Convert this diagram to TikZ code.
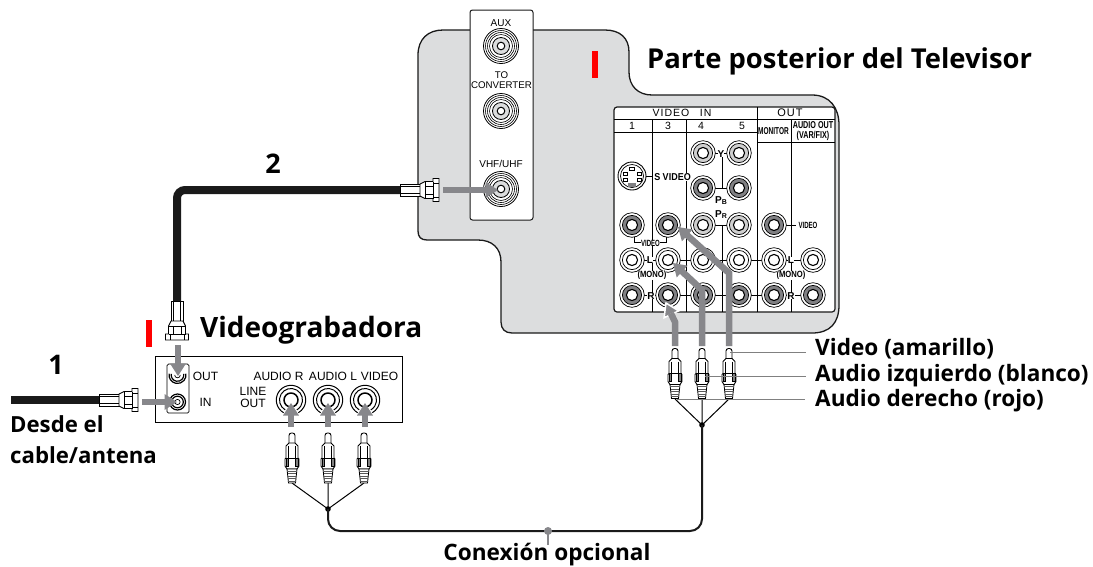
\documentclass[tikz,border=0pt]{standalone}
\usepackage{fontspec}
\usepackage{graphicx}
\setmainfont{Liberation Sans}
\newfontfamily\headfont{Open Sans}
\usetikzlibrary{calc}
\definecolor{tvgray}{HTML}{DCDDDE}
\definecolor{arrowgray}{HTML}{87878B}
\definecolor{jackdark}{HTML}{808083}
\definecolor{jacklight}{HTML}{CFCFCF}
\definecolor{inkblack}{HTML}{1A1A1A}
\newcommand\garrow[4][draw=none]{%
  \coordinate (gb) at ($(#4)!12.5pt!(#3)$);
  \path[fill=arrowgray,#1] (#4) -- ($(gb)!8pt!90:(#4)$) -- ($(gb)!8pt!-90:(#4)$) -- cycle;
  \draw[draw=arrowgray,line width=6.5pt] #2 -- ($(#4)!11.5pt!(#3)$);
}
\tikzset{
  head/.style={font=\headfont\bfseries\fontsize{#1}{#1}\selectfont,text=black,inner sep=0pt},
  paneltxt/.style={font=\fontsize{#1}{#1}\selectfont,text=black,inner sep=0pt,align=center},
  boldtxt/.style={font=\bfseries\fontsize{#1}{#1}\selectfont,text=black,inner sep=0pt,align=center},
  leader/.style={draw=gray,line width=1pt},
  wire/.style={draw=black,line width=1pt},
  redbar/.style={fill=red,draw=none},
  coaxcable/.style={draw=inkblack,line width=8pt},
  pics/rcajack/.style={code={
    \draw[line width=.7pt,fill=white] (0,0) circle[radius=12.3];
    \draw[line width=.7pt,fill=#1] (0,0) circle[radius=9.6];
    \draw[line width=1.1pt,fill=white] (0,0) circle[radius=5.6];
  }},
  pics/fjack/.style={code={
    \draw[line width=.8pt,fill=white] (0,0) circle[radius=17.5];
    \foreach \r in {15.5,13.5,11.5}{\draw[line width=.6pt] (0,0) circle[radius=\r];}
    \draw[line width=.8pt,fill=tvgray] (0,0) circle[radius=8.5];
    \draw[line width=1pt,fill=white] (0,0) circle[radius=3.8];
  }},
  pics/linejack/.style={code={
    \draw[line width=1pt] (120:14.7) arc[start angle=120,end angle=420,radius=14.7];
    \draw[line width=1pt] (120:11.5) arc[start angle=120,end angle=420,radius=11.5];
    \draw[line width=1.5pt] (110:7) arc[start angle=110,end angle=430,radius=7];
  }},
  pics/outjack/.style={code={
    \draw[line width=1.2pt] (190:8.5) arc[start angle=190,end angle=-10,radius=8.5];
    \draw[line width=1.2pt] (190:6.3) arc[start angle=190,end angle=-10,radius=6.3];
    \draw[line width=.7pt] (180:2.8) arc[start angle=180,end angle=0,radius=2.8];
  }},
  pics/injack/.style={code={
    \draw[line width=1.2pt] (0,0) circle[radius=8];
    \draw[line width=1.2pt] (0,0) circle[radius=5.8];
    \draw[line width=.7pt] (0,0) circle[radius=2.6];
  }},
  pics/coaxplug/.style={code={
    \draw[line width=.8pt,fill=white] (0,-6) rectangle (20,6);
    \draw[line width=.6pt] (0,-3.5) -- (20,-3.5) (0,3.5) -- (20,3.5);
    \draw[line width=.9pt,fill=white] (20,-6) -- (25,-8.5) -- (33,-8.5) -- (33,-11.5) -- (39,-11.5)
      -- (39,11.5) -- (33,11.5) -- (33,8.5) -- (25,8.5) -- (20,6) -- cycle;
    \draw[line width=.6pt] (25,-8.5) -- (25,8.5) (33,-8.5) -- (33,8.5) (25,-4) -- (33,-4) (25,4) -- (33,4) (34,-7) -- (39,-7) (34,7) -- (39,7);
  }},
  pics/rcaplug/.style={code={
    \draw[line width=.9pt,fill=white,rounded corners=2.5pt] (-3,11) -- (-3,0) -- (3,0) -- (3,11);
    \draw[line width=.9pt,fill=white] (-3,10) -- (-6,13) -- (-6,25) -- (-7,26) -- (-7,33) -- (-5,36) -- (5,36) -- (7,33) -- (7,26) -- (6,25) -- (6,13) -- (3,10) -- cycle;
    \draw[line width=.6pt,fill=gray] (-6,25) rectangle (-3.5,33) (3.5,25) rectangle (6,33);
    \draw[line width=.6pt] (-3.5,13) -- (-3.5,25) (3.5,13) -- (3.5,25) (-3.5,25) -- (3.5,25);
    \draw[line width=.8pt,fill=white] (-5,36) -- (-3.5,50) -- (3.5,50) -- (5,36) -- cycle;
    \foreach \y in {38,40.5,43,45.5,48}{\draw[line width=.9pt,gray!70!black] (-4.2,\y) -- (4.2,\y);}
  }},
  pics/ysplit/.style={code={
    \coordinate (-a) at (-#1,0);
    \coordinate (-b) at (0,0);
    \coordinate (-c) at (#1,0);
    \coordinate (-j) at (0,26);
    \draw[wire] (-a) -- (-j) (-b) -- (-j) (-c) -- (-j);
    \fill[black] (-j) circle[radius=2.8];
  }},
}
\begin{document}
\begin{tikzpicture}[x=1pt,y=-1pt]
\useasboundingbox (0,0) rectangle (1093,566);

% --- TV back panel
\draw[fill=tvgray,draw=inkblack,line width=1.3pt]
  (443,30) -- (605,30) .. controls (620,30) and (629,38) .. (629,52) -- (629,72)
  .. controls (629,86) and (638,95) .. (652,95) -- (812,95)
  .. controls (830,95) and (839,108) .. (839,125) -- (839,305)
  .. controls (839,323) and (830,333) .. (812,333) -- (512,333)
  .. controls (505,333) and (501,329) .. (501,322) -- (501,262)
  .. controls (501,248) and (492,240) .. (478,240) -- (427,240)
  .. controls (421,240) and (418,237) .. (418,231) -- (418,55)
  .. controls (418,39) and (428,30) .. (443,30) -- cycle;

% --- antenna strip
\draw[fill=white,draw=inkblack,line width=1pt,rounded corners=2.5pt] (470,10) rectangle (533,220);
\node[paneltxt=10] (tAux) at (501,23) {AUX};
\node[paneltxt=9.7] (tConv) at (501.5,80) {TO\\[.3pt]CONVERTER};
\node[paneltxt=10] (tVhf) at (501,164) {VHF/UHF};
\pic at (501,46) {fjack};
\pic at (501,111) {fjack};
\pic at (501,189) {fjack};
\coordinate (vhfjack) at (498,190);

\fill[redbar] (592,51) rectangle (598,78);
\fill[redbar] (146,320) rectangle (152,347);

% --- AV panel
\draw[fill=white,draw=inkblack,line width=1.2pt,rounded corners=3pt] (614,107) rectangle (835,312);
\draw[line width=.9pt] (614,119) -- (835,119) (614,132) -- (757,132) (757,142) -- (835,142);
\draw[line width=.9pt] (652,119) -- (652,312) (686,119) -- (686,312) (757,107) -- (757,312) (791,119) -- (791,312);
\draw[line width=.9pt] (722,153) -- (722,188) (722,225) -- (722,312);
\foreach \yy in {260,295}{\draw[line width=.9pt] (668,\yy) -- (813,\yy);}
\draw[line width=.9pt] (632,260) -- (668,260) (632,295) -- (668,295);
\draw[line width=.9pt] (703,153) -- (739,153) (703,188) -- (739,188) (703,225) -- (739,225) (774,225) -- (796,225);
\draw[line width=.9pt] (634,236) -- (634,242) -- (666,242) -- (666,236);

\node[paneltxt=10.5] (tVin) at (682,113) {V\kern1pt I\kern1pt D\kern1pt E\kern1pt O\quad I\kern1pt N};
\node[paneltxt=11] (tOut) at (790,113) {O\kern1pt U\kern1pt T};
\node[paneltxt=10.5] (c1) at (632,126) {1};
\node[paneltxt=10.5] (c3) at (668,126) {3};
\node[paneltxt=10.5] (c4) at (701,126) {4};
\node[paneltxt=10.5] (c5) at (742,126) {5};
\node[boldtxt=10] (tMon) at (773.5,131) {\scalebox{.65}[1]{MONITOR}};
\node[boldtxt=10] (tAud) at (813,131) {\scalebox{.72}[1]{AUDIO OUT}\\\scalebox{.72}[1]{(VAR/FIX)}};

\foreach \x/\y/\c in {703/153/jacklight,739/153/jacklight,
   703/188/jackdark,739/188/jackdark,
   632/225/jackdark,668/225/jackdark,703/225/jacklight,739/225/jacklight,774/225/jackdark,
   632/260/white,668/260/white,703/260/white,739/260/white,774/260/white,813/260/white,
   632/295/jackdark,668/295/jackdark,703/295/jackdark,739/295/jackdark,774/295/jackdark,813/295/jackdark}
  {\pic at (\x,\y) {rcajack=\c};}

% s-video
\draw[line width=.9pt,fill=white] (632,176) circle[radius=14];
\draw[line width=.7pt] (632,176) circle[radius=11.5];
\draw[line width=.6pt,fill=white] (629.5,167.5) rectangle (634.5,170.5)
  (623,172) rectangle (627,175) (637,172) rectangle (641,175)
  (623,178) rectangle (627,181) (637,178) rectangle (641,181);
\fill[jackdark] (628,183) rectangle (636,187);
\draw[line width=.9pt] (646,176) -- (653,176);

\node[fill=white,inner sep=.7pt,boldtxt=10] (tS) at (672.5,177) {\scalebox{.9}[1]{S VIDEO}};
\node[fill=white,inner sep=.7pt,boldtxt=10] (tY) at (721,154) {Y};
\node[boldtxt=10] (tPb) at (721,200.5) {P\raisebox{-.5pt}{\fontsize{7}{7}\selectfont B}};
\node[boldtxt=10] (tPr) at (721,214.5) {P\raisebox{-.5pt}{\fontsize{7}{7}\selectfont R}};
\node[fill=white,inner sep=.7pt,boldtxt=9] (tV1) at (650.5,243) {\scalebox{.67}[1]{VIDEO}};
\node[fill=white,inner sep=.7pt,boldtxt=9] (tV2) at (808,225) {\scalebox{.67}[1]{VIDEO}};
\node[fill=white,inner sep=.7pt,boldtxt=10] (tL1) at (650,260) {L};
\node[fill=white,inner sep=.7pt,boldtxt=10] (tR1) at (651,296) {R};
\node[fill=white,inner sep=.7pt,boldtxt=10] (tL2) at (791,260) {L};
\node[fill=white,inner sep=.7pt,boldtxt=10] (tR2) at (791,296) {R};
\node[fill=white,inner sep=.3pt,boldtxt=9] (tM1) at (652,275.5) {\scalebox{.85}[1]{(MONO)}};
\node[fill=white,inner sep=.3pt,boldtxt=9] (tM2) at (791,275.5) {\scalebox{.85}[1]{(MONO)}};

% --- VCR panel
\draw[fill=white,draw=black,line width=.9pt] (155,356) rectangle (402,422);
\draw[line width=.7pt,rounded corners=1.5pt] (167,364) rectangle (189,413);
\pic at (177.5,375) {outjack};
\pic at (177.5,402) {injack};
\node[paneltxt=12] (tO) at (205.5,376) {OUT};
\node[paneltxt=12] (tI) at (205.5,402) {IN};
\node[paneltxt=12] (tAR) at (278.5,376) {AUDIO R};
\node[paneltxt=12] (tAL) at (333,376) {AUDIO L};
\node[paneltxt=12] (tVd) at (379.5,376) {VIDEO};
\node[paneltxt=12] (tLO) at (253,397) {LINE\\OUT};
\pic at (291,400) {linejack};
\pic at (328,400) {linejack};
\pic at (365,400) {linejack};

% --- coax cables
\coordinate (cab2end) at (400,190);
\coordinate (cab2bot) at (177,301);
\coordinate (cab1start) at (11,400);
\coordinate (cab1end) at (99,400);
\draw[coaxcable,rounded corners=8pt] (cab2end) -- (177,190) -- (cab2bot);
\draw[coaxcable] (cab1start) -- (cab1end);
\pic at (cab2end) {coaxplug};
\pic[rotate=-90] at (cab2bot) {coaxplug};
\pic at (cab1end) {coaxplug};

% --- grey arrows
\coordinate (a1s) at (443,190);
\coordinate (a2s) at (178,345);
\coordinate (a2e) at (178,376);
\coordinate (a3s) at (142,402);
\coordinate (a3e) at (177,402);
\garrow{(a1s)}{a1s}{vhfjack}
\garrow{(a2s)}{a2s}{a2e}
\garrow{(a3s)}{a3s}{a3e}
\foreach \x in {291,328,365}{
  \coordinate (ls) at (\x,427);
  \coordinate (lt) at (\x,403);
  \garrow{(ls)}{ls}{lt}
}
\coordinate (r1) at (675,346);
\coordinate (r2) at (702,346);
\coordinate (r3) at (729,346);
\coordinate (b1) at (675,322);
\coordinate (b2) at (702,290);
\coordinate (b3) at (729,273);
\coordinate (t1) at (666,303);
\coordinate (t2) at (673,263);
\coordinate (t3) at (678,227);
\garrow[draw=white,line width=1.5pt]{(r1) -- (b1)}{b1}{t1}
\garrow{(r2) -- (b2)}{b2}{t2}
\garrow{(r3) -- (b3)}{b3}{t3}

% --- RCA leads right
\pic (ysR) at (702,399) {ysplit=27};
\foreach \x in {675,702,729}{\pic at (\x,348.5) {rcaplug};}
\draw[leader] (730,352) -- (806,352) (705,376) -- (806,376) (677,399.5) -- (805,399.5);

% --- RCA leads left
\pic (ysL) at (328,483) {ysplit=36};
\foreach \x in {292,328,364}{\pic at (\x,433) {rcaplug};}

% --- optional cable
\coordinate (cabtap) at (548,531);
\draw[draw=inkblack,line width=2pt,rounded corners=12pt] (ysL-j) -- (328,531) -- (702,531) -- (ysR-j);
\fill[arrowgray] (cabtap) circle[radius=4];
\coordinate (tapend) at (548,545);
\draw[arrowgray,line width=2pt] (cabtap) -- (tapend);

% --- headings
\node[head=27.4,anchor=west] (hTv) at (647,61.5) {Parte posterior del Televisor};
\node[head=28,anchor=west] (hVcr) at (200,330) {Videograbadora};
\node[head=27] (n1) at (56,365) {1};
\node[head=27] (n2) at (273,164) {2};
\node[head=22.2,anchor=west] (hDesde) at (10,424) {Desde el};
\node[head=22.2,anchor=west] (hCable) at (10,455) {cable/antena};
\node[head=22.6,anchor=west] (lVid) at (815,349) {Video (amarillo)};
\node[head=22.6,anchor=west] (lAi) at (815,376) {Audio izquierdo (blanco)};
\node[head=22.6,anchor=west] (lAd) at (815,401) {Audio derecho (rojo)};
\node[head=22.6] (lOp) at (547,555) {Conexión opcional};
\end{tikzpicture}
\end{document}
